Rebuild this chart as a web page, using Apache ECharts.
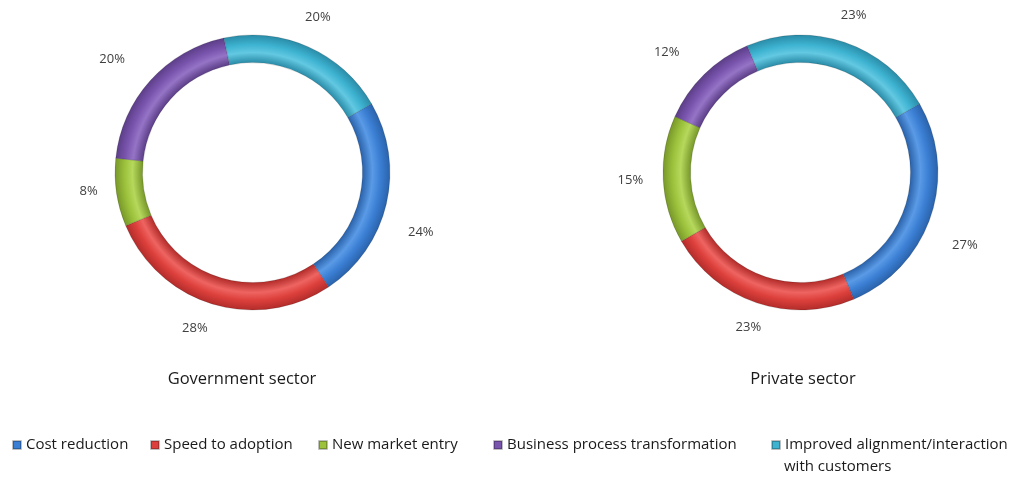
<!DOCTYPE html>
<html>
<head>
<meta charset="utf-8">
<script src="https://cdn.jsdelivr.net/npm/echarts@6/dist/echarts.min.js"></script>
<style>
  html, body { margin: 0; padding: 0; background: #fff; }
  #main { width: 1015px; height: 480px; }
</style>
</head>
<body>
<div id="main"></div>
<script>
    var categories = ['Cost reduction', 'Speed to adoption', 'New market entry', 'Business process transformation', 'Improved alignment/interaction\nwith customers'];
    var govValues = [24, 28, 8, 20, 20];
    var privValues = [27, 23, 15, 12, 23];
    var sectorNames = ['Government sector', 'Private sector'];

    var baseColors = ['#3b7fd4', '#dd403c', '#9cc23c', '#7a55ae', '#3db3d1'];
    var darkColors = ['#2a62aa', '#b22c2a', '#78982a', '#5c3e88', '#2a8ca8'];
    var lightColors = ['#5a9ae6', '#ee6461', '#b6d85c', '#9574c6', '#63c8e2'];

    var centers = [[252.5, 172.5], [800.5, 172.5]];
    var rIn = 110, rOut = 137.5;

    // small nudges so the percent labels sit where Excel put them
    var labelNudge = [
        [[3, 25], [4, 11], [0, -3], [-10, -12], [-14, -17]],
        [[3, 24], [14, 11], [-1, 0], [-10, -12], [-13, -14]]
    ];

    function ringColor(i, c) {
        // bevel look: darker at edges, lighter in the middle of the ring
        return {
            type: 'radial', x: c[0], y: c[1], r: rOut, global: true,
            colorStops: [
                { offset: 0, color: baseColors[i] },
                { offset: rIn / rOut, color: darkColors[i] },
                { offset: (rIn + 10) / rOut, color: lightColors[i] },
                { offset: 0.93, color: baseColors[i] },
                { offset: 1, color: darkColors[i] }
            ]
        };
    }

    function makeSeries(values, idx) {
        var data = [];
        for (var i = 0; i < values.length; i++) {
            data.push({
                name: categories[i],
                value: values[i],
                itemStyle: { color: ringColor(i, centers[idx]) }
            });
        }
        return {
            type: 'pie',
            center: centers[idx],
            radius: [rIn, rOut],
            startAngle: 30,
            clockwise: true,
            avoidLabelOverlap: false,
            animation: false,
            itemStyle: { borderColor: 'rgba(0,0,0,0.25)', borderWidth: 0.6 },
            label: {
                show: true,
                position: 'outside',
                formatter: '{c}%',
                color: '#404040',
                fontSize: 13,
                fontFamily: 'Open Sans'
            },
            labelLine: { show: false, length: 14, length2: 0 },
            labelLayout: function (params) {
                var n = labelNudge[params.seriesIndex][params.dataIndex];
                return { dx: n[0], dy: n[1] };
            },
            emphasis: { disabled: true },
            data: data
        };
    }

    var legendLefts = [12, 150, 318, 493, 771];
    var legends = [];
    for (var k = 0; k < categories.length; k++) {
        legends.push({
            data: [{ name: categories[k], itemStyle: { color: baseColors[k] } }],
            left: legendLefts[k],
            top: 434,
            padding: 0,
            orient: 'horizontal',
            icon: 'rect',
            itemWidth: 8,
            itemHeight: 8,
            selectedMode: false,
            formatter: function (name) { return name.split('\n')[0]; },
            textStyle: { color: '#1a1a1a', fontSize: 15, fontFamily: 'Open Sans', lineHeight: 22 }
        });
    }

    var chart = echarts.init(document.getElementById('main'));
    var option = {
        backgroundColor: '#ffffff',
        title: [
            { text: sectorNames[0], left: 242, top: 371, padding: 0, textAlign: 'center',
              textStyle: { fontSize: 16.5, fontWeight: 'normal', color: '#1a1a1a', fontFamily: 'Open Sans' } },
            { text: sectorNames[1], left: 803, top: 371, padding: 0, textAlign: 'center',
              textStyle: { fontSize: 16.5, fontWeight: 'normal', color: '#1a1a1a', fontFamily: 'Open Sans' } }
        ],
        legend: legends,
        graphic: [{
            type: 'text',
            left: 784,
            top: 459,
            style: {
                text: categories[4].split('\n')[1],
                fill: '#1a1a1a',
                font: '15px "Open Sans"'
            }
        }],
        series: [makeSeries(govValues, 0), makeSeries(privValues, 1)]
    };
    chart.setOption(option);
</script>
</body>
</html>
